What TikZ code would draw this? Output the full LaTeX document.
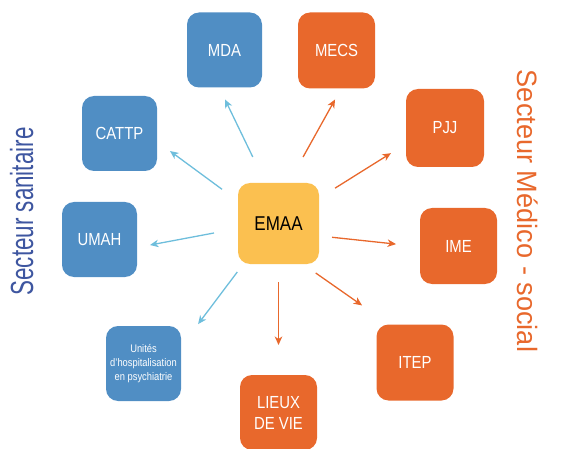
\documentclass[tikz,border=0pt]{standalone}
\usepackage{fontspec}
\setmainfont{Liberation Sans}
\newfontfamily\boxfont[FakeStretch=0.85]{Liberation Sans}
\newfontfamily\leftlabfont[FakeStretch=0.70]{Liberation Sans}
\newfontfamily\rightlabfont[FakeStretch=0.97]{Liberation Sans}
\usetikzlibrary{arrows.meta}
\definecolor{boxblue}{RGB}{80,142,196}
\definecolor{boxorange}{RGB}{232,104,44}
\definecolor{boxyellow}{RGB}{251,192,80}
\definecolor{arrblue}{RGB}{110,190,220}
\definecolor{labelblue}{RGB}{62,86,160}
\begin{document}
\begin{tikzpicture}[x=1pt,y=-1pt,
  box/.style={rounded corners=12pt, minimum width=75pt, minimum height=75pt,
    inner sep=0pt, outer sep=0pt, text=white, align=center,
    font=\boxfont\fontsize{17.5}{21}\selectfont},
  bluebox/.style={box, fill=boxblue},
  orangebox/.style={box, fill=boxorange, minimum width=77pt, minimum height=76pt},
  centrebox/.style={box, fill=boxyellow, text=black, minimum width=81pt, minimum height=81pt,
    font=\boxfont\fontsize{20}{24}\selectfont},
  tiptype/.style={-{Stealth[length=8.5pt,width=7.5pt,inset=2.5pt]}},
  arrb/.style={draw=arrblue, line width=1.3pt, tiptype},
  arro/.style={draw=boxorange, line width=1.3pt, tiptype}
]
\useasboundingbox (0,0) rectangle (562,449);

\node[bluebox] (mda) at (224.5,50) {MDA};
\node[bluebox] (cattp) at (119.5,133.5) {CATTP};
\node[bluebox] (umah) at (99.5,239.5) {UMAH};
\node[bluebox, font=\boxfont\fontsize{11}{14}\selectfont] (unites) at (143.5,363.5) {Unités\\d’hospitalisation\\en psychiatrie};
\node[centrebox] (emaa) at (278.5,223.5) {EMAA};
\node[orangebox] (mecs) at (336.5,50.5) {MECS};
\node[orangebox, minimum width=78pt, minimum height=78pt] (pjj) at (445,128) {PJJ};
\node[orangebox] (ime) at (458.5,246) {IME};
\node[orangebox] (itep) at (415,362.5) {ITEP};
\node[orangebox, minimum height=75pt] (lieux) at (278.5,412.5) {LIEUX\\DE VIE};

\draw[arrb, shorten <=28.9pt, shorten >=13.3pt] (emaa.108) -- (mda.262);
\draw[arrb, shorten <=19.8pt, shorten >=16.1pt] (emaa.151) -- (cattp.348);
\draw[arrb, shorten <=24.4pt, shorten >=13.2pt] (emaa.187) -- (umah.348);
\draw[arrb, shorten <=10pt, shorten >=28.4pt] (emaa.229) -- (unites.24);
\draw[arro, shorten <=18pt, shorten >=30pt] (emaa.south) -- (lieux.north);
\draw[arro, shorten <=15.7pt, shorten >=33.3pt] (emaa.301) -- (itep.124);
\draw[arro, shorten <=13.1pt, shorten >=24.1pt] (emaa.343) -- (ime.181);
\draw[arro, shorten <=18.9pt, shorten >=17.7pt] (emaa.32) -- (pjj.202);
\draw[arro, shorten <=29.8pt, shorten >=12.6pt] (emaa.76) -- (mecs.277);

\node[rotate=90, anchor=base, text=labelblue, inner sep=0pt,
  font=\leftlabfont\fontsize{32}{38}\selectfont] (lsan) at (33,211.5) {Secteur sanitaire};
\node[rotate=-90, anchor=base, text=boxorange, inner sep=0pt,
  font=\rightlabfont\fontsize{28}{34}\selectfont] (lmed) at (517,211) {Secteur Médico - social};
\end{tikzpicture}
\end{document}
